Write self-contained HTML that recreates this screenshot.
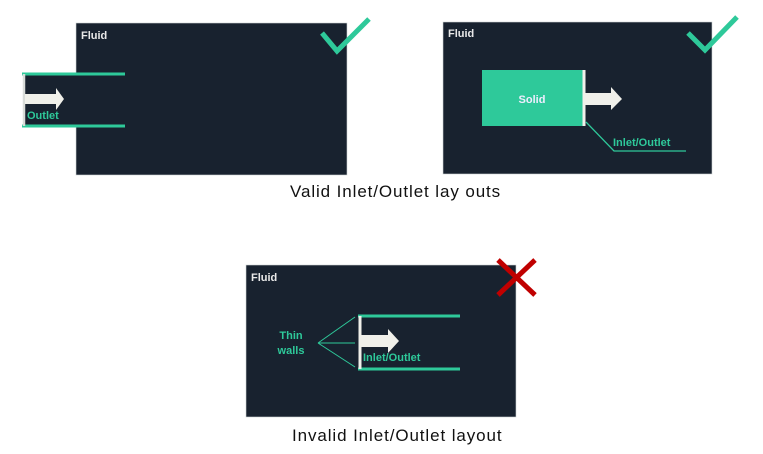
<!DOCTYPE html>
<html><head><style>
body{margin:0;width:763px;height:454px;background:#fff;overflow:hidden;position:relative;font-family:"Liberation Sans",sans-serif}
.cap{position:absolute;font-size:17px;letter-spacing:0.9px;color:#111;white-space:nowrap;line-height:20px}
</style></head><body>
<svg width="763" height="454" style="position:absolute;left:0;top:0" font-family="Liberation Sans, sans-serif" font-weight="bold">
<!-- panel 1 -->
<rect x="76" y="23" width="271" height="152" fill="#18222f" stroke="#cfd3d6" stroke-width="0.6"/>
<rect x="23" y="74" width="54" height="52" fill="#18222f"/>
<text x="81" y="39" fill="#e8e8e8" font-size="11">Fluid</text>
<line x1="22" y1="74" x2="125" y2="74" stroke="#2ec99a" stroke-width="3"/>
<line x1="22" y1="126" x2="125" y2="126" stroke="#2ec99a" stroke-width="3"/>
<line x1="24" y1="74" x2="24" y2="126" stroke="#d9dcd9" stroke-width="2.5"/>
<polygon points="25,94 56,94 56,88 64,99 56,110 56,104 25,104" fill="#f0f0ea"/>
<text x="27" y="119" fill="#2ec99a" font-size="11">Outlet</text>
<polyline points="322,33 337,51 369,19" fill="none" stroke="#2ec99a" stroke-width="5"/>
<!-- panel 2 -->
<rect x="443" y="22" width="269" height="152" fill="#18222f" stroke="#cfd3d6" stroke-width="0.6"/>
<text x="448" y="37" fill="#e8e8e8" font-size="11">Fluid</text>
<rect x="482" y="70" width="101" height="56" fill="#2ec99a"/>
<text x="532" y="103" fill="#eef" font-size="11" text-anchor="middle">Solid</text>
<line x1="584" y1="70" x2="584" y2="126" stroke="#f0f0ea" stroke-width="3"/>
<polygon points="585,93 611,93 611,87 622,99 611,110 611,105 585,105" fill="#f0f0ea"/>
<polyline points="586,122 614,151 686,151" fill="none" stroke="#2ec99a" stroke-width="1.3"/>
<text x="613" y="146" fill="#2ec99a" font-size="11">Inlet/Outlet</text>
<polyline points="688,33 705,50 737,17" fill="none" stroke="#2ec99a" stroke-width="5"/>
<!-- panel 3 -->
<rect x="246" y="265" width="270" height="152" fill="#18222f" stroke="#cfd3d6" stroke-width="0.6"/>
<text x="251" y="281" fill="#e8e8e8" font-size="11">Fluid</text>
<line x1="358" y1="316" x2="460" y2="316" stroke="#2ec99a" stroke-width="3"/>
<line x1="358" y1="369" x2="460" y2="369" stroke="#2ec99a" stroke-width="3"/>
<line x1="360" y1="316" x2="360" y2="369" stroke="#f0f0ea" stroke-width="3"/>
<polygon points="361,335 388,335 388,329 399,341 388,353 388,347 361,347" fill="#f0f0ea"/>
<text x="363" y="361" fill="#2ec99a" font-size="11">Inlet/Outlet</text>
<text x="291" y="339" fill="#2ec99a" font-size="11" text-anchor="middle">Thin</text>
<text x="291" y="354" fill="#2ec99a" font-size="11" text-anchor="middle">walls</text>
<g stroke="#2ec99a" stroke-width="1" fill="none">
<line x1="318" y1="343" x2="355" y2="317"/><line x1="318" y1="343" x2="355" y2="343"/><line x1="318" y1="343" x2="355" y2="367"/>
</g>
<g stroke="#c00000" stroke-width="5"><line x1="498" y1="260" x2="535" y2="295"/><line x1="535" y1="260" x2="498" y2="295"/></g>
</svg>
<div class="cap" style="left:290px;top:182px">Valid Inlet/Outlet lay outs</div>
<div class="cap" style="left:292px;top:426px">Invalid Inlet/Outlet layout</div>
</body></html>
